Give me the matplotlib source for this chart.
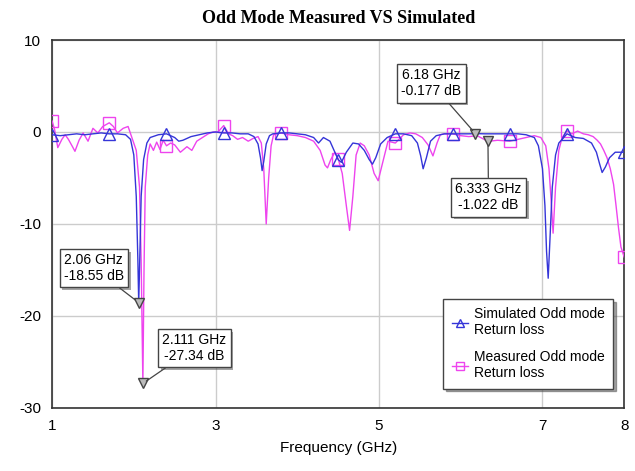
import matplotlib
matplotlib.use("Agg")
import matplotlib.pyplot as plt
import matplotlib.patheffects as pe

plt.rcParams['font.family'] = ['Liberation Sans', 'DejaVu Sans']
plt.rcParams['axes.unicode_minus'] = False

# Simulated odd mode return loss (GHz, dB)
sim_freq = [1.0, 1.1, 1.2, 1.3, 1.4, 1.5, 1.6, 1.7, 1.8, 1.9, 1.96, 2.0, 2.03, 2.05, 2.06,
            2.07, 2.09, 2.12, 2.16, 2.2, 2.3, 2.4, 2.5, 2.55, 2.6, 2.7, 2.8, 2.9, 3.0, 3.1,
            3.2, 3.3, 3.4, 3.47, 3.52, 3.55, 3.57, 3.59, 3.62, 3.66, 3.7, 3.8, 3.9, 4.0, 4.1,
            4.2, 4.26, 4.32, 4.4, 4.46, 4.5, 4.54, 4.6, 4.68, 4.75, 4.82, 4.88, 4.92, 4.96,
            5.02, 5.1, 5.2, 5.3, 5.4, 5.47, 5.51, 5.54, 5.58, 5.63, 5.7, 5.8, 5.9, 6.0, 6.1,
            6.18, 6.3, 6.4, 6.5, 6.6, 6.7, 6.8, 6.9, 6.95, 7.0, 7.03, 7.05, 7.07, 7.09, 7.12,
            7.16, 7.2, 7.25, 7.3, 7.4, 7.5, 7.6, 7.66, 7.7, 7.73, 7.77, 7.82, 7.89, 7.95, 8.0]
sim_db = [-0.3, -0.4, -0.3, -0.2, -0.3, -0.2, -0.1, -0.2, -0.2, -0.3, -0.8, -2.5, -7, -14, -18.55,
          -15, -7, -3, -1.2, -0.6, -0.3, -0.2, -0.6, -1.0, -0.9, -0.5, -0.3, -0.1, 0.0, -0.1,
          -0.1, -0.2, -0.2, -0.5, -1.3, -2.8, -4.2, -3.2, -1.3, -0.4, -0.2, -0.1, -0.1, -0.2, -0.3,
          -0.6, -1.2, -0.6, -1.0, -2.2, -3.0, -3.3, -2.2, -1.2, -1.3, -2.0, -3.0, -3.5, -2.8,
          -1.3, -0.6, -0.2, -0.2, -0.4, -1.2, -2.6, -4.0, -2.8, -1.0, -0.4, -0.2, -0.2, -0.2, -0.2,
          -0.177, -0.2, -0.2, -0.2, -0.2, -0.2, -0.3, -0.6, -1.5, -4, -8, -13, -15.9, -12, -6,
          -2.5, -1.2, -0.7, -0.2, -0.6, -0.7, -1.2, -2.2, -3.5, -4.4, -3.8, -2.8, -2.2, -2.2, -2.2]

# Measured odd mode return loss (GHz, dB)
meas_freq = [1.0, 1.03, 1.07, 1.12, 1.16, 1.2, 1.25, 1.28, 1.33, 1.38, 1.44, 1.5, 1.56, 1.62,
             1.7, 1.75, 1.8, 1.87, 1.93, 1.98, 2.03, 2.07, 2.09, 2.111, 2.125, 2.14, 2.17, 2.2,
             2.24, 2.28, 2.32, 2.36, 2.4, 2.45, 2.5, 2.57, 2.65, 2.71, 2.77, 2.84, 2.91, 2.97,
             3.03, 3.1, 3.16, 3.21, 3.27, 3.33, 3.4, 3.46, 3.52, 3.56, 3.59, 3.62, 3.65, 3.68,
             3.71, 3.8, 3.9, 4.0, 4.1, 4.2, 4.28, 4.34, 4.37, 4.41, 4.46, 4.5, 4.55, 4.6, 4.64,
             4.68, 4.72, 4.77, 4.82, 4.88, 4.94, 4.99, 5.04, 5.11, 5.2, 5.3, 5.38, 5.45, 5.53,
             5.6, 5.66, 5.71, 5.75, 5.8, 5.9, 6.0, 6.1, 6.2, 6.333, 6.45, 6.6, 6.7, 6.8, 6.9,
             6.98, 7.04, 7.08, 7.11, 7.13, 7.16, 7.2, 7.24, 7.3, 7.36, 7.43, 7.5, 7.56, 7.62,
             7.67, 7.71, 7.75, 7.79, 7.83, 7.87, 7.9, 7.93, 7.96, 8.0]
meas_db = [1.2, 0.3, -1.7, -0.8, -0.3, -0.8, -1.6, -2.1, -0.9, -0.1, -1.0, 0.4, -0.1, 0.6,
           1.0, 0.6, -0.1, 0.4, 0.6, -0.7, -2.0, -6, -14, -27.34, -15, -6, -2.5, -1.3,
           -2.0, -1.1, -1.9, -0.9, -1.5, -1.2, -1.4, -2.2, -1.6, -2.0, -1.0, -0.6, -0.2, 0.0,
           0.0, 0.7, -0.2, -0.4, -0.8, -0.6, -1.0, -0.7, -0.5, -1.2, -4, -10, -5, -1.5,
           -0.3, -0.1, -0.3, -0.4, -0.6, -1.0, -2.0, -3.6, -3.9, -3.0, -2.2, -2.9, -4.5, -8, -10.7,
           -7, -2.5, -1.2, -1.5, -2.5, -4.5, -5.3, -3.5, -1.0, -1.2, -0.3, -0.1, -0.2, -0.6,
           -1.4, -2.6, -1.2, -0.3, -0.2, -0.2, -0.4, -0.5, -0.4, -1.022, -0.9, -1.0, -0.8, -0.6, -0.4,
           -0.6, -1.5, -4, -8, -11, -6, -2.0, -0.6, 0.1, -0.2, 0.1, -0.2, -0.3, -0.5,
           -0.9, -1.3, -2.0, -2.8, -4.0, -5.7, -8, -10.4, -12.5, -13.6]

# frequencies where the series symbols are drawn
symbol_freq = [1.0, 1.7, 2.4, 3.1, 3.8, 4.5, 5.2, 5.9, 6.6, 7.3, 8.0]

# marker readouts: (freq, dB, label position)
marker_freq = [2.06, 2.111, 6.18, 6.333]
marker_db = [-18.55, -27.34, -0.177, -1.022]
marker_text = ['2.06 GHz\n-18.55 dB', '2.111 GHz\n-27.34 dB', '6.18 GHz\n-0.177 dB', '6.333 GHz\n-1.022 dB']
label_pos = [(1.51, -14.8), (2.74, -23.5), (5.64, 5.3), (6.34, -7.1)]

sim_color = '#3535d8'
meas_color = '#ee44ee'

fig = plt.figure(figsize=(6.35, 4.71), dpi=100)
ax = fig.add_axes([0.082, 0.134, 0.901, 0.781])

sim_marks = [sim_freq.index(f) for f in symbol_freq]
meas_marks = [meas_freq.index(f) for f in symbol_freq]

ax.plot(meas_freq, meas_db, color=meas_color, lw=1.0, marker='s', ms=8,
        mfc='none', mec=meas_color, markevery=meas_marks,
        label='Measured Odd mode\nReturn loss', zorder=3)
ax.plot(sim_freq, sim_db, color=sim_color, lw=1.0, marker='^', ms=8,
        mfc='none', mec=sim_color, markevery=sim_marks,
        label='Simulated Odd mode\nReturn loss', zorder=4)

# marker readouts with leader lines
ax.plot(marker_freq, marker_db, linestyle='none', marker='v', ms=7,
        mfc='#bbbbbb', mec='#444444', zorder=5)
for f, v, txt, pos in zip(marker_freq, marker_db, marker_text, label_pos):
    t = ax.annotate(txt, xy=(f, v), xytext=pos, ha='center', va='center', fontsize=10,
                    bbox=dict(boxstyle='square,pad=0.3', fc='white', ec='#444444', lw=1.0),
                    arrowprops=dict(arrowstyle='-', color='#444444', lw=0.9, shrinkA=0, shrinkB=3),
                    zorder=6)
    t.get_bbox_patch().set_path_effects([pe.withSimplePatchShadow(offset=(2, -2), alpha=0.5)])

ax.set_xlim(1, 8)
ax.set_ylim(-30, 10)
ax.set_xticks([1, 3, 5, 7, 8])
ax.set_yticks([10, 0, -10, -20, -30])
ax.tick_params(length=0, labelsize=11, pad=8)
ax.grid(True, color='#cccccc', lw=1.0)
for s in ax.spines.values():
    s.set_color('#333333')
    s.set_linewidth(1.2)

ax.set_title('Odd Mode Measured VS Simulated', fontsize=13, fontweight='bold',
             family='Liberation Serif', pad=12)
ax.set_xlabel('Frequency (GHz)', fontsize=11, labelpad=6)

handles, labels = ax.get_legend_handles_labels()
leg = ax.legend(handles[::-1], labels[::-1], loc='upper left', bbox_to_anchor=(0.672, 0.315),
                fontsize=10, fancybox=False, shadow=True, framealpha=1,
                edgecolor='#444444', handlelength=1.2, handletextpad=0.4, borderpad=0.6,
                labelspacing=0.9, markerscale=0.8)
leg.get_frame().set_linewidth(1.0)

fig.savefig('out.png', dpi=100)
